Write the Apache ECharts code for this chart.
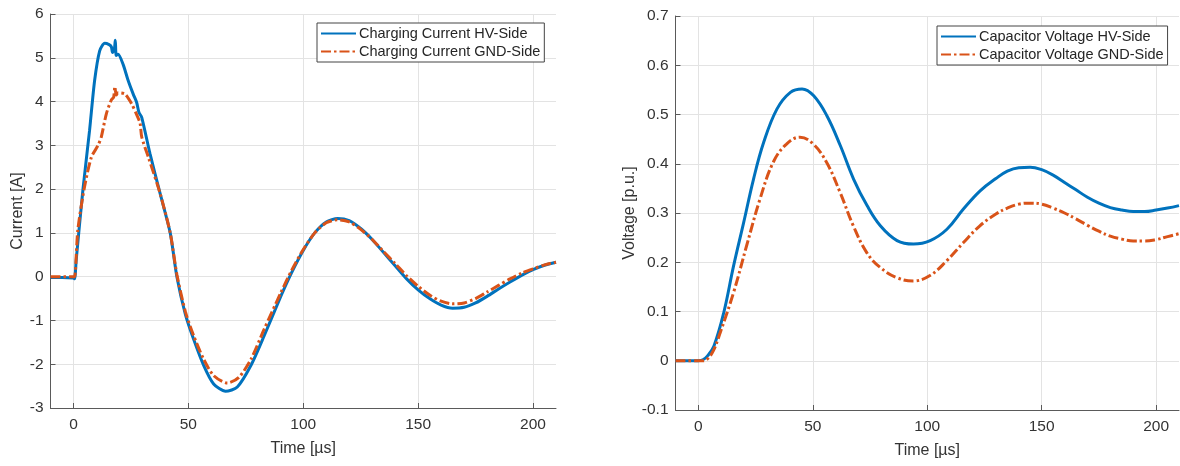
<!DOCTYPE html>
<html>
<head>
<meta charset="utf-8">
<script src="https://cdn.jsdelivr.net/npm/echarts@6/dist/echarts.min.js"></script>
<style>
  html, body { margin: 0; padding: 0; background: #fff; }
  #chart { width: 1180px; height: 466px; }
</style>
</head>
<body>
<div id="chart"></div>
<script>
// left plot: charging current [A] over time [µs]
const currentHvTime = [-10, -5, 0, 0.5, 1.2, 4.1, 7, 9.2, 11.4, 13.6, 15.5, 16.5, 17, 17.8, 18.2, 18.6, 19.4, 21.6, 23.8, 26, 27.5, 28.5, 29.7, 33.3, 37.7, 42.1, 45, 48.7, 52.3, 56.7, 61, 66.2, 71.3, 77.2, 83, 90.3, 95, 100, 105, 110, 115, 120, 125, 130, 135, 140, 145, 150, 155, 160, 165, 170, 175, 180, 185, 190, 195, 200, 205, 210];
const currentHv = [-0.02, -0.02, -0.03, -0.05, 0.39, 1.98, 3.34, 4.48, 5.16, 5.33, 5.3, 5.25, 5.12, 5.2, 5.4, 5.05, 5.08, 4.85, 4.48, 4.17, 3.98, 3.75, 3.64, 2.81, 1.9, 1.0, 0, -0.86, -1.43, -2.03, -2.45, -2.62, -2.52, -2.03, -1.35, -0.44, 0.1, 0.6, 1.0, 1.25, 1.33, 1.28, 1.1, 0.85, 0.55, 0.25, -0.05, -0.3, -0.5, -0.65, -0.72, -0.7, -0.6, -0.45, -0.28, -0.12, 0.03, 0.16, 0.26, 0.33];
const currentGndTime = [-10, 0, 0.5, 1.9, 4.8, 7.8, 10.7, 12.1, 14.3, 16.5, 17.5, 18, 18.6, 19.4, 22.4, 25.3, 27.5, 29, 29.7, 32.6, 37.7, 42.1, 45, 48.7, 52.3, 56.7, 61, 67, 72, 77.2, 83, 90.3, 95, 100, 105, 110, 115, 120, 125, 130, 135, 140, 145, 150, 155, 160, 165, 170, 175, 180, 185, 190, 195, 200, 205, 210];
const currentGnd = [0, 0, 0, 1.07, 2.05, 2.73, 3.0, 3.19, 3.72, 4.04, 4.1, 4.34, 4.15, 4.2, 4.17, 3.95, 3.7, 3.5, 3.19, 2.73, 1.9, 1.0, 0.05, -0.8, -1.35, -1.89, -2.26, -2.43, -2.3, -1.89, -1.2, -0.36, 0.15, 0.62, 1.0, 1.23, 1.3, 1.25, 1.08, 0.85, 0.57, 0.3, 0.02, -0.22, -0.42, -0.56, -0.62, -0.6, -0.5, -0.35, -0.2, -0.05, 0.08, 0.18, 0.27, 0.33];

// right plot: capacitor voltage [p.u.] over time [µs]
const voltageHvTime = [-10, 0, 2, 4, 6.8, 11.1, 15.4, 19.8, 24.1, 28.5, 34.3, 40.2, 45.3, 50.4, 56.2, 62, 67.8, 73.7, 79.5, 86.8, 94, 101.3, 108.6, 115.8, 123.1, 130, 135, 140, 145, 150, 155, 160, 165, 170, 175, 180, 185, 190, 195, 200, 205, 210];
const voltageHv = [0, 0, 0.002, 0.01, 0.03, 0.098, 0.193, 0.281, 0.369, 0.443, 0.511, 0.545, 0.552, 0.538, 0.497, 0.437, 0.369, 0.315, 0.274, 0.244, 0.237, 0.244, 0.267, 0.308, 0.345, 0.37, 0.385, 0.392, 0.393, 0.388, 0.377, 0.362, 0.347, 0.332, 0.32, 0.311, 0.306, 0.303, 0.303, 0.306, 0.31, 0.315];
const voltageGndTime = [-10, 0, 2, 3.8, 6.5, 9.6, 15.4, 21.1, 26.9, 32.7, 38.5, 44.4, 50.2, 56, 61.9, 67.7, 73.5, 79.3, 86.6, 93.9, 101.2, 108.5, 115.8, 123, 130, 135, 140, 145, 150, 155, 160, 165, 170, 175, 180, 185, 190, 195, 200, 205, 210];
const voltageGnd = [0, 0, 0, 0.003, 0.02, 0.058, 0.139, 0.234, 0.328, 0.403, 0.44, 0.454, 0.44, 0.403, 0.342, 0.274, 0.22, 0.19, 0.169, 0.162, 0.173, 0.203, 0.24, 0.274, 0.298, 0.31, 0.318, 0.32, 0.318, 0.31, 0.3, 0.288, 0.275, 0.263, 0.253, 0.247, 0.243, 0.243, 0.246, 0.252, 0.258];

const timeTicks = [0, 50, 100, 150, 200];

const pairs = (xs, ys) => xs.map((x, i) => [x, ys[i]]);

const FONT = '"Liberation Sans", Arial, Helvetica, sans-serif';
const BLUE = '#0072BD';
const ORANGE = '#D95319';
const AXIS = '#5a5a5a';
const TEXT = '#333333';

const xAxisFor = (gridIndex) => ({
  gridIndex,
  type: 'value',
  min: -10,
  max: 210,
  name: 'Time [µs]',
  nameLocation: 'middle',
  nameGap: 33,
  nameTextStyle: { fontFamily: FONT, fontSize: 16, color: TEXT },
  axisLine: { onZero: false, lineStyle: { color: AXIS, width: 1 } },
  axisTick: { inside: true, length: 5, customValues: timeTicks, lineStyle: { color: AXIS } },
  axisLabel: { customValues: timeTicks, margin: 9, fontFamily: FONT, fontSize: 15.5, color: TEXT },
  splitLine: { show: true, lineStyle: { color: '#e3e3e3', width: 1 } },
});

const yAxisFor = (gridIndex, name, min, max, interval, nameGap) => ({
  gridIndex,
  type: 'value',
  min,
  max,
  interval,
  name,
  nameLocation: 'middle',
  nameGap,
  nameTextStyle: { fontFamily: FONT, fontSize: 16, color: TEXT },
  axisLine: { show: true, onZero: false, lineStyle: { color: AXIS, width: 1 } },
  axisTick: { show: true, inside: true, length: 5, lineStyle: { color: AXIS } },
  axisLabel: { margin: 7, fontFamily: FONT, fontSize: 15.5, color: TEXT },
  splitLine: { show: true, lineStyle: { color: '#e3e3e3', width: 1 } },
});

const legendFor = (left, top, names) => ({
  orient: 'vertical',
  left,
  top,
  data: names,
  padding: [3, 4, 3, 3],
  itemGap: 3,
  itemWidth: 35,
  itemHeight: 16,
  itemStyle: { opacity: 0 },
  borderColor: '#444',
  borderWidth: 1,
  backgroundColor: '#fff',
  textStyle: { fontFamily: FONT, fontSize: 14.5, color: '#262626', padding: [0, 0, 0, -2] },
});

const lineSeries = (name, data, axisIndex, color, dashed, smooth) => ({
  name,
  type: 'line',
  xAxisIndex: axisIndex,
  yAxisIndex: axisIndex,
  data,
  symbol: 'none',
  smooth,
  animation: false,
  lineStyle: { color, width: 3, type: dashed ? [10, 3, 2.5, 3] : 'solid' },
  itemStyle: { color },
});

const dom = document.getElementById('chart');
const myChart = echarts.init(dom, null, { renderer: 'canvas' });

const option = {
  backgroundColor: '#fff',
  animation: false,
  grid: [
    { left: 50.5, right: 624, top: 14, bottom: 58 },
    { left: 675.5, right: 1, top: 16, bottom: 56 },
  ],
  legend: [
    legendFor(317, 23, ['Charging Current HV-Side', 'Charging Current GND-Side']),
    legendFor(937, 26, ['Capacitor Voltage HV-Side', 'Capacitor Voltage GND-Side']),
  ],
  xAxis: [xAxisFor(0), xAxisFor(1)],
  yAxis: [
    yAxisFor(0, 'Current [A]', -3, 6, 1, 23),
    yAxisFor(1, 'Voltage [p.u.]', -0.1, 0.7, 0.1, 38),
  ],
  series: [
    lineSeries('Charging Current HV-Side', pairs(currentHvTime, currentHv), 0, BLUE, false, 0.25),
    lineSeries('Charging Current GND-Side', pairs(currentGndTime, currentGnd), 0, ORANGE, true, 0.25),
    lineSeries('Capacitor Voltage HV-Side', pairs(voltageHvTime, voltageHv), 1, BLUE, false, 0.4),
    lineSeries('Capacitor Voltage GND-Side', pairs(voltageGndTime, voltageGnd), 1, ORANGE, true, 0.4),
  ],
};

myChart.setOption(option);
window.addEventListener('resize', myChart.resize);
</script>
</body>
</html>
